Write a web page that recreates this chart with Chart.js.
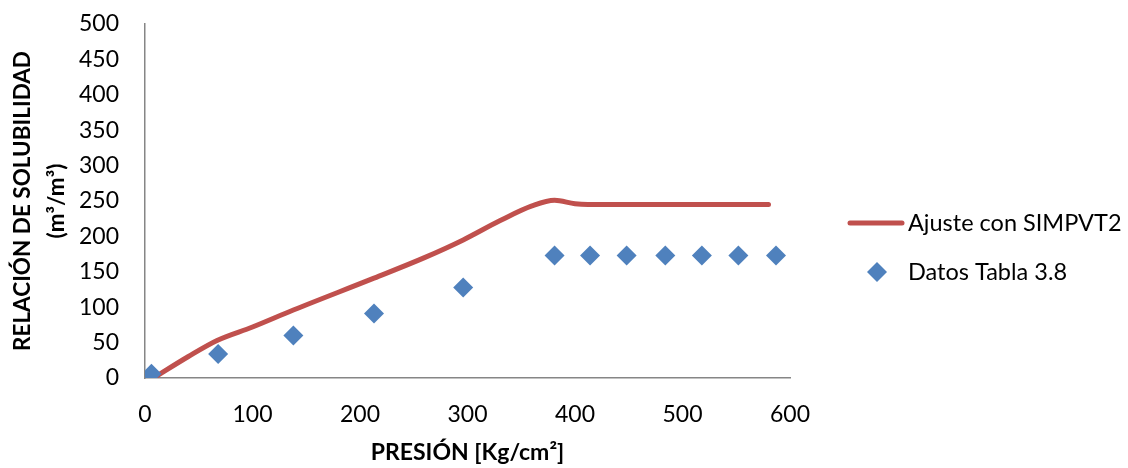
<!DOCTYPE html>
<html><head><meta charset="utf-8">
<script src="https://cdn.jsdelivr.net/npm/chart.js@4"></script>
<style>html,body{margin:0;padding:0;background:#fff}#wrap{width:1128px;height:468px}</style>
</head><body><div id="wrap"><canvas id="c" width="1128" height="468"></canvas></div>
<script>
const fitPressure = [10, 40, 67, 100, 138, 213, 260, 296, 330, 360, 381, 400, 412, 580];
const fitRs       = [2, 30, 53, 72, 96, 141, 170, 195, 222, 243, 251, 246, 245, 245];
const dataPressure = [6, 68, 138, 213, 296, 381, 414, 448, 484, 518, 552, 587];
const dataRs       = [6, 34, 60, 91, 128, 173, 173, 173, 173, 173, 173, 173];
const xTicks = [0, 100, 200, 300, 400, 500, 600];
const yTicks = [0, 50, 100, 150, 200, 250, 300, 350, 400, 450, 500];
const seriesNames = ['Ajuste con SIMPVT2', 'Datos Tabla 3.8'];
const xTitle = 'PRESIÓN [Kg/cm²]';
const yTitle = ['RELACIÓN DE SOLUBILIDAD', '(m³/m³)'];

const RED = '#C0504D', BLUE = '#4F81BD', AXIS = '#868686';
const FONT = 'Lato';

const legendPlugin = {
  id: 'customLegend',
  afterDraw(chart) {
    const ctx = chart.ctx;
    ctx.save();
    ctx.font = '23.5px ' + FONT;
    ctx.fillStyle = '#000';
    ctx.textBaseline = 'middle';
    ctx.textAlign = 'left';
    ctx.strokeStyle = RED; ctx.lineWidth = 5; ctx.lineCap = 'round';
    ctx.beginPath(); ctx.moveTo(850, 223); ctx.lineTo(902, 223); ctx.stroke();
    ctx.fillText(seriesNames[0], 908, 223);
    ctx.fillStyle = BLUE;
    ctx.beginPath();
    ctx.moveTo(877, 262); ctx.lineTo(887, 272); ctx.lineTo(877, 282); ctx.lineTo(867, 272); ctx.closePath();
    ctx.fill();
    ctx.fillStyle = '#000';
    ctx.fillText(seriesNames[1], 908, 272);
    ctx.restore();
  }
};

new Chart(document.getElementById('c'), {
  type: 'scatter',
  data: {
    datasets: [
      {
        label: seriesNames[0],
        data: fitPressure.map((x, i) => ({x, y: fitRs[i]})),
        showLine: true,
        borderColor: RED,
        backgroundColor: RED,
        borderWidth: 5,
        borderCapStyle: 'round',
        pointRadius: 0,
        cubicInterpolationMode: 'monotone',
        order: 2
      },
      {
        label: seriesNames[1],
        data: dataPressure.map((x, i) => ({x, y: dataRs[i]})),
        showLine: false,
        pointStyle: 'rectRot',
        pointRadius: 10,
        pointBackgroundColor: BLUE,
        pointBorderColor: BLUE,
        pointBorderWidth: 0,
        order: 1
      }
    ]
  },
  options: {
    responsive: false,
    animation: false,
    devicePixelRatio: 1,
    layout: { padding: { left: 0, right: 338, top: 24, bottom: 0 } },
    plugins: { legend: { display: false }, tooltip: { enabled: false } },
    scales: {
      x: {
        type: 'linear', min: 0, max: 600,
        afterBuildTicks: s => { s.ticks = xTicks.map(v => ({value: v})); },
        afterFit: s => { s.height = 90; },
        grid: { display: false, drawTicks: false },
        border: { display: true, color: AXIS, width: 1.5 },
        ticks: { color: '#000', font: { family: FONT, size: 23 }, padding: 23, maxRotation: 0 },
        title: { display: true, text: xTitle, color: '#000',
                 font: { family: FONT, size: 23, weight: 'bold', lineHeight: 1.2 },
                 padding: { top: 0, bottom: 2 } }
      },
      y: {
        type: 'linear', min: 0, max: 500,
        afterBuildTicks: s => { s.ticks = yTicks.map(v => ({value: v})); },
        afterFit: s => { s.width = 145; s.paddingTop = 0; },
        grid: { display: false, drawTicks: false },
        border: { display: true, color: AXIS, width: 1.5 },
        ticks: { color: '#000', font: { family: FONT, size: 23 }, padding: 26 },
        title: { display: true, text: yTitle, color: '#000',
                 font: { family: FONT, size: 22.5, weight: 'bold', lineHeight: 1.5 },
                 padding: { top: 6, bottom: 0 } }
      }
    }
  },
  plugins: [legendPlugin]
});
</script>
</body></html>
